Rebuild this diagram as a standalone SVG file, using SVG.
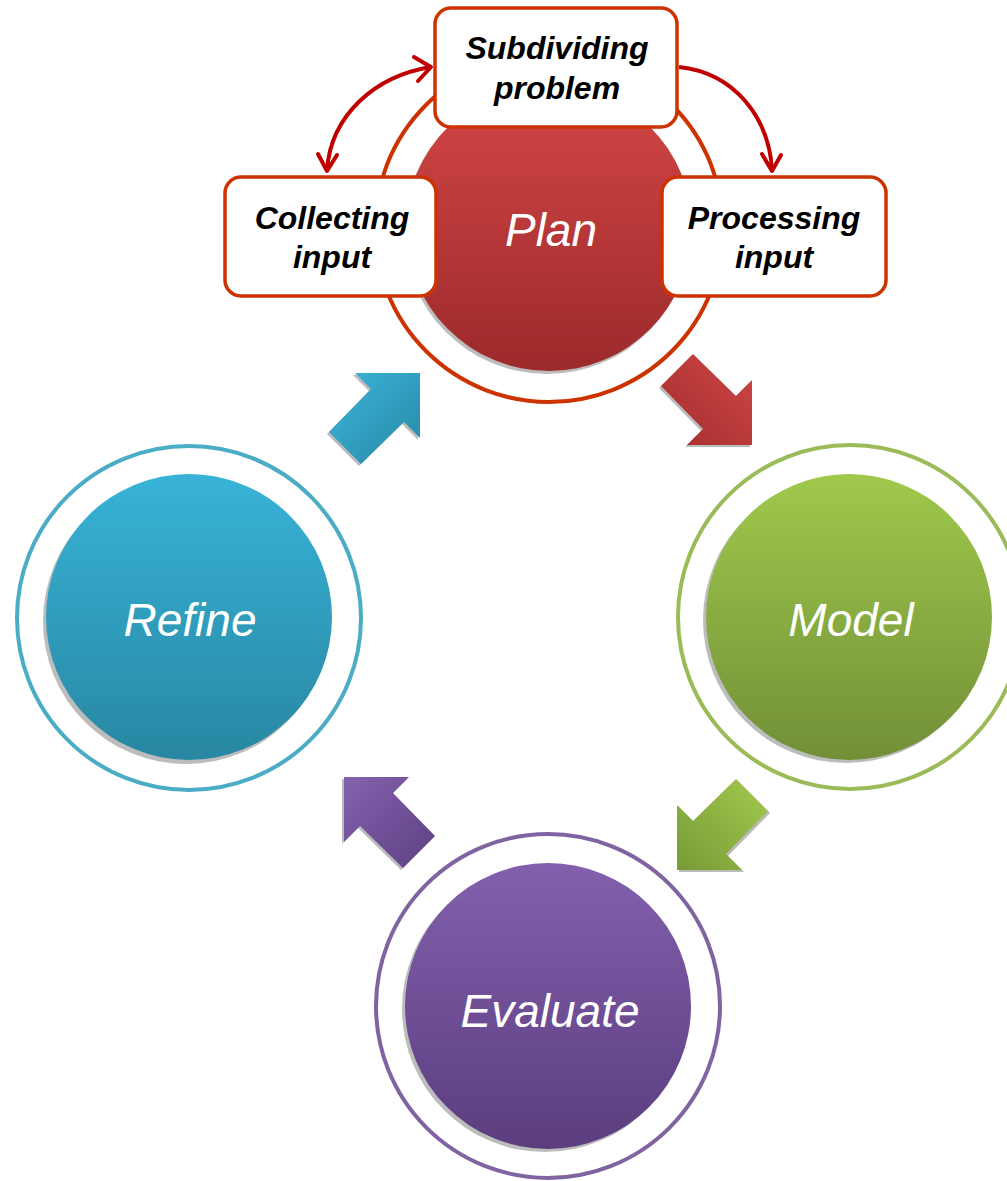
<svg xmlns="http://www.w3.org/2000/svg" width="1007" height="1181" viewBox="0 0 1007 1181">
  <style>
    .ring { fill: none; stroke-width: 4; }
    .shadow { fill: #6a6a6a; opacity: 0.45; }
    .big { font-family: "Liberation Sans", Arial, sans-serif; font-style: italic; font-size: 46px; fill: #ffffff; text-anchor: middle; }
    .box { fill: #ffffff; stroke: #cc3300; stroke-width: 3.5; }
    .boxtxt { font-family: "Liberation Sans", Arial, sans-serif; font-style: italic; font-weight: bold; font-size: 32px; fill: #000000; text-anchor: middle; }
    .curve { fill: none; stroke: #c00000; stroke-width: 4; }
    .head { fill: none; stroke: #c00000; stroke-width: 4; stroke-linecap: round; stroke-linejoin: round; }
    .ashadow { fill: #777777; opacity: 0.5; }
  </style>
  <defs>
    <linearGradient id="gPlan" x1="0" y1="0" x2="0" y2="1">
      <stop offset="0" stop-color="#d44646"/>
      <stop offset="1" stop-color="#9c2a2b"/>
    </linearGradient>
    <linearGradient id="gRefine" x1="0" y1="0" x2="0" y2="1">
      <stop offset="0" stop-color="#38b3d7"/>
      <stop offset="1" stop-color="#2887a2"/>
    </linearGradient>
    <linearGradient id="gModel" x1="0" y1="0" x2="0" y2="1">
      <stop offset="0" stop-color="#a0c94c"/>
      <stop offset="1" stop-color="#728f37"/>
    </linearGradient>
    <linearGradient id="gEval" x1="0" y1="0" x2="0" y2="1">
      <stop offset="0" stop-color="#8260ad"/>
      <stop offset="1" stop-color="#5c3d7f"/>
    </linearGradient>
    <!-- block-arrow shading: dark corner to light corner -->
    <linearGradient id="aRed" x1="0" y1="1" x2="1" y2="0">
      <stop offset="0" stop-color="#a32e2e"/>
      <stop offset="1" stop-color="#d04646"/>
    </linearGradient>
    <linearGradient id="aGreen" x1="0" y1="1" x2="1" y2="0">
      <stop offset="0" stop-color="#779b35"/>
      <stop offset="1" stop-color="#a3ca50"/>
    </linearGradient>
    <linearGradient id="aPurple" x1="0" y1="0" x2="1" y2="1">
      <stop offset="0" stop-color="#8462ae"/>
      <stop offset="1" stop-color="#5e3f83"/>
    </linearGradient>
    <linearGradient id="aBlue" x1="0" y1="0" x2="1" y2="1">
      <stop offset="0" stop-color="#3db6da"/>
      <stop offset="1" stop-color="#2787a5"/>
    </linearGradient>
  </defs>

  <!-- Plan -->
  <g id="plan">
    <circle class="ring" cx="549" cy="228" r="174" stroke="#cc3300"/>
    <circle class="shadow" cx="547" cy="231" r="143"/>
    <circle cx="549" cy="228" r="143" fill="url(#gPlan)"/>
    <text class="big" x="551" y="246">Plan</text>
  </g>

  <!-- Model -->
  <g id="model">
    <circle class="ring" cx="850" cy="617" r="172" stroke="#9bbb59"/>
    <circle class="shadow" cx="846" cy="620" r="143"/>
    <circle cx="849" cy="617" r="143" fill="url(#gModel)"/>
    <text class="big" x="851" y="636">Model</text>
  </g>

  <!-- Refine -->
  <g id="refine">
    <circle class="ring" cx="189" cy="618" r="172" stroke="#4bacc6"/>
    <circle class="shadow" cx="186" cy="621" r="143"/>
    <circle cx="189" cy="617" r="143" fill="url(#gRefine)"/>
    <text class="big" x="190" y="636">Refine</text>
  </g>

  <!-- Evaluate -->
  <g id="evaluate">
    <circle class="ring" cx="548" cy="1006" r="172" stroke="#8064a2"/>
    <circle class="shadow" cx="545" cy="1009" r="143"/>
    <circle cx="548" cy="1006" r="143" fill="url(#gEval)"/>
    <text class="big" x="550" y="1027">Evaluate</text>
  </g>

  <!-- sub-steps of Plan -->
  <g id="subdividing">
    <rect class="box" x="435" y="8" width="242" height="119" rx="16"/>
    <text class="boxtxt" x="557" y="59">Subdividing</text>
    <text class="boxtxt" x="557" y="99">problem</text>
  </g>
  <g id="collecting">
    <rect class="box" x="225" y="177" width="211" height="119" rx="16"/>
    <text class="boxtxt" x="332" y="229">Collecting</text>
    <text class="boxtxt" x="332" y="268">input</text>
  </g>
  <g id="processing">
    <rect class="box" x="662" y="177" width="224" height="119" rx="16"/>
    <text class="boxtxt" x="774" y="229">Processing</text>
    <text class="boxtxt" x="774" y="268">input</text>
  </g>

  <!-- connectors -->
  <g id="connectors">
    <!-- curved arrows between the Plan sub-steps -->
    <path class="curve" d="M431,67 C375,76 331,115 327,170"/>
    <polyline class="head" points="414,57 431,67 418,81"/>
    <polyline class="head" points="318,154 327,171 337,155"/>
    <path class="curve" d="M679,67 C735,73 769,118 772,170"/>
    <polyline class="head" points="762,154 772,171 781,155"/>

    <!-- block arrows of the cycle: Plan to Model -->
    <polygon class="ashadow" points="691,356 734,398 750,382 750,447 685,447 701,431 659,388"/>
    <polygon fill="url(#aRed)" points="693,354 736,396 752,380 752,445 687,445 703,429 661,386"/>
    <!-- Model to Evaluate -->
    <polygon class="ashadow" points="770,813 728,856 744,872 679,872 679,807 695,823 738,781"/>
    <polygon fill="url(#aGreen)" points="768,811 726,854 742,870 677,870 677,805 693,821 736,779"/>
    <!-- Evaluate to Refine -->
    <polygon class="ashadow" points="401,870 358,828 342,844 342,779 407,779 391,795 433,838"/>
    <polygon fill="url(#aPurple)" points="403,868 360,826 344,842 344,777 409,777 393,793 435,836"/>
    <!-- Refine to Plan -->
    <polygon class="ashadow" points="327,434 369,391 353,375 418,375 418,440 402,424 359,466"/>
    <polygon fill="url(#aBlue)" points="329,432 371,389 355,373 420,373 420,438 404,422 361,464"/>
  </g>
</svg>
